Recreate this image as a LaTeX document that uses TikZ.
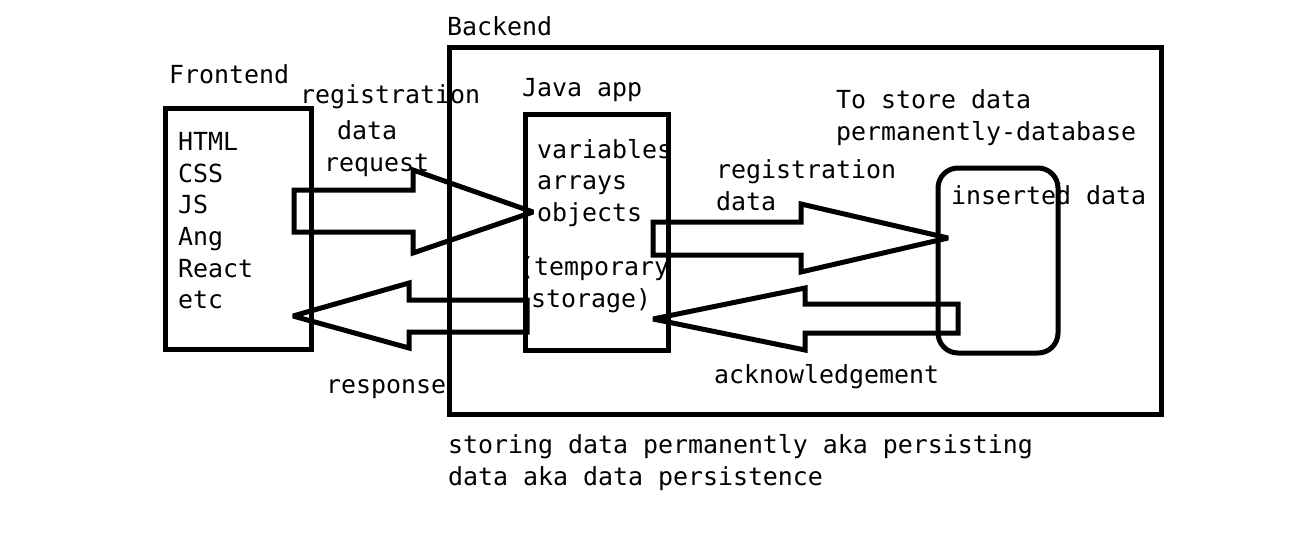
\documentclass[tikz,border=0pt]{standalone}
\usepackage{fontspec}
\newfontfamily\cons{DejaVu Sans Mono}
\begin{document}
\begin{tikzpicture}[x=1pt,y=-1pt,
  lbl/.style={anchor=base west,inner sep=0pt,font=\cons\fontsize{24.9}{31.6}\selectfont},
  boxo/.style={draw,line width=5pt,inner sep=0pt,minimum width=#1},
  blockarrow/.style={draw,line width=5pt,line join=miter,miter limit=2.5}]
\useasboundingbox (0,0) rectangle (1290,546);
\fill[white] (0,0) rectangle (1290,546);
% boxes
\node[boxo=712pt,minimum height=367pt] (backend) at (805,230.5) {};
\node[boxo=146pt,minimum height=241pt] (frontend) at (238,228.5) {};
\node[boxo=143pt,minimum height=236pt] (java) at (596.5,232) {};
\node[boxo=120pt,minimum height=185pt,rounded corners=20pt] (db) at (998,260.5) {};
% labels
\node[lbl] (tbackend) at (447,35) {Backend};
\node[lbl] (tfrontend) at (169,83) {Frontend};
\node[lbl] (tjava) at (522,96) {Java app};
\node[lbl] (tstore1) at (836,108) {To store data};
\node[lbl] (tstore2) at (836,140) {permanently-database};
\node[lbl] (treg1) at (300,103) {registration};
\node[lbl] (treg2) at (337,139) {data};
\node[lbl] (treg3) at (324,171) {request};
\node[lbl] (tresp) at (326,393) {response};
\node[lbl] (tregb1) at (716,178) {registration};
\node[lbl] (tregb2) at (716,210) {data};
\node[lbl] (tins) at (951,204) {inserted data};
\node[lbl] (tack) at (714,383) {acknowledgement};
\node[lbl] (tf1) at (178,150) {HTML};
\node[lbl] (tf2) at (178,182) {CSS};
\node[lbl] (tf3) at (178,213) {JS};
\node[lbl] (tf4) at (178,245) {Ang};
\node[lbl] (tf5) at (178,277) {React};
\node[lbl] (tf6) at (178,308) {etc};
\node[lbl] (tj1) at (537,158) {variables};
\node[lbl] (tj2) at (537,189) {arrays};
\node[lbl] (tj3) at (537,221) {objects};
\node[lbl] (tj4) at (519,275) {(temporary};
\node[lbl] (tj5) at (531,307) {storage)};
\node[lbl] (tp1) at (448,453) {storing data permanently aka persisting};
\node[lbl] (tp2) at (448,485) {data aka data persistence};
% block arrows
\draw[blockarrow] (294,190) -- (413,190) -- (413,170) -- (533,212) -- (413,253) -- (413,232) -- (294,232) -- cycle;
\draw[blockarrow] (527,300) -- (409,300) -- (409,283) -- (293,316) -- (409,348) -- (409,332) -- (527,332) -- cycle;
\draw[blockarrow] (653,222) -- (801,222) -- (801,204) -- (948,238) -- (801,272) -- (801,255) -- (653,255) -- cycle;
\draw[blockarrow] (958,304) -- (805,304) -- (805,288) -- (653,319) -- (805,350) -- (805,333) -- (958,333) -- cycle;
\end{tikzpicture}
\end{document}
